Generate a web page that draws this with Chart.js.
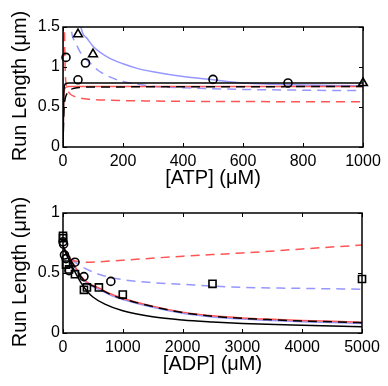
<!DOCTYPE html>
<html>
<head>
<meta charset="utf-8">
<script src="https://cdn.jsdelivr.net/npm/chart.js@4.4.1/dist/chart.umd.min.js"></script>
<style>
  body { margin: 0; background: #fff; }
  canvas { display: block; }
</style>
</head>
<body>
<canvas id="atpChart" width="388" height="193"></canvas>
<canvas id="adpChart" width="388" height="193"></canvas>
<script>
// ---- top panel: run length vs ATP ----
var atpTicks = [0, 200, 400, 600, 800, 1000];
var atpRunTicks = [0, 0.5, 1, 1.5];

var atpCircleX = [10, 50, 75, 500, 750];
var atpCircleY = [1.12, 0.84, 1.05, 0.845, 0.80];
var atpTriangleX = [50, 100, 1000];
var atpTriangleY = [1.41, 1.16, 0.80];

var atpBlueSolidX = [0, 1, 60, 80, 100, 150, 200, 250, 300, 400, 500, 600, 700, 800, 900, 1000];
var atpBlueSolidY = [0, 4, 1.5, 1.36, 1.26, 1.12, 1.04, 0.98, 0.94, 0.88, 0.84, 0.80, 0.785, 0.775, 0.77, 0.765];
var atpBlueDashX = [0, 1, 27, 40, 60, 90, 120, 160, 200, 300, 400, 600, 800, 1000];
var atpBlueDashY = [0, 4, 1.5, 1.32, 1.17, 1.05, 0.95, 0.87, 0.82, 0.76, 0.74, 0.72, 0.71, 0.705];
var atpRedDashX = [0, 1, 5, 8, 12, 20, 40, 80, 150, 300, 600, 1000];
var atpRedDashY = [0, 4, 1.5, 0.9, 0.76, 0.68, 0.63, 0.60, 0.585, 0.575, 0.568, 0.565];
var atpRedSolidX = [0, 3, 8, 20, 100, 1000];
var atpRedSolidY = [0, 0.65, 0.74, 0.755, 0.757, 0.757];
var atpBlackSolidX = [0, 3, 8, 20, 1000];
var atpBlackSolidY = [0, 0.70, 0.79, 0.80, 0.80];
var atpBlackDashX = [0, 3, 6, 11, 20, 33, 60, 100, 1000];
var atpBlackDashY = [0, 0.45, 0.58, 0.65, 0.70, 0.73, 0.745, 0.75, 0.755];

// ---- bottom panel: run length vs ADP ----
var adpTicks = [0, 1000, 2000, 3000, 4000, 5000];
var adpRunTicks = [0, 0.5, 1];

var adpSquareX = [0, 0, 50, 100, 200, 350, 400, 600, 1000, 2500, 5000];
var adpSquareY = [0.81, 0.79, 0.57, 0.53, 0.49, 0.36, 0.38, 0.38, 0.32, 0.41, 0.45];
var adpCircleX = [0, 10, 25, 50, 100, 200, 350, 800];
var adpCircleY = [0.76, 0.74, 0.65, 0.62, 0.52, 0.59, 0.47, 0.43];

var adpFitX = [0, 100, 200, 300, 400, 600, 800, 1000, 1500, 2000, 2500, 3000, 3500, 4000, 4500, 5000];
var adpBlackDashY = [0.72, 0.63, 0.55, 0.47, 0.42, 0.37, 0.32, 0.285, 0.22, 0.17, 0.14, 0.122, 0.11, 0.10, 0.093, 0.086];
var adpRedSolidY = [0.725, 0.635, 0.555, 0.475, 0.425, 0.375, 0.325, 0.29, 0.224, 0.174, 0.144, 0.126, 0.114, 0.104, 0.097, 0.09];
var adpBlueSolidY = [0.715, 0.625, 0.545, 0.465, 0.414, 0.364, 0.314, 0.279, 0.214, 0.164, 0.134, 0.116, 0.104, 0.094, 0.087, 0.08];
var adpBlackSolidX = [0, 50, 100, 200, 300, 400, 500, 700, 1000, 1500, 2000, 2500, 3000, 4000, 5000];
var adpBlackSolidY = [0.72, 0.66, 0.61, 0.51, 0.42, 0.35, 0.30, 0.24, 0.185, 0.135, 0.108, 0.092, 0.08, 0.065, 0.053];
var adpRedDashX = [0, 100, 200, 400, 1000, 2000, 3000, 4000, 5000];
var adpRedDashY = [0.72, 0.64, 0.60, 0.59, 0.607, 0.64, 0.667, 0.70, 0.733];
var adpBlueDashX = [0, 100, 200, 360, 640, 1000, 1500, 2000, 3000, 4000, 5000];
var adpBlueDashY = [0.72, 0.64, 0.59, 0.54, 0.483, 0.445, 0.42, 0.405, 0.38, 0.372, 0.365];

var RED = 'rgb(255, 85, 85)';
var BLUE = 'rgb(150, 150, 255)';
var FONT = 'Liberation Sans, Arial, sans-serif';

function pts(xs, ys) {
  return xs.map(function(x, i) { return { x: x, y: ys[i] }; });
}

function curve(xs, ys, color, dashed) {
  return {
    type: 'line',
    data: pts(xs, ys),
    borderColor: color,
    borderWidth: 1.5,
    borderDash: dashed ? [9, 6] : [],
    pointRadius: 0,
    cubicInterpolationMode: 'monotone',
    fill: false
  };
}

function markers(xs, ys, style, r) {
  return {
    type: 'scatter',
    data: pts(xs, ys),
    pointStyle: style,
    pointRadius: r,
    pointBorderColor: '#000',
    pointBackgroundColor: 'rgba(0,0,0,0)',
    pointBorderWidth: 1.6,
    clip: false
  };
}

// matlab style box with inward ticks on all four sides, plus axis titles
var boxPlugin = {
  id: 'box',
  afterDatasetsDraw: function(chart, args, opts) {
    var a = chart.chartArea, ctx = chart.ctx;
    var xs = chart.scales.x, ys = chart.scales.y;
    ctx.save();
    ctx.strokeStyle = '#000';
    ctx.lineWidth = 1.5;
    ctx.strokeRect(a.left, a.top, a.right - a.left, a.bottom - a.top);
    ctx.lineWidth = 1;
    ctx.beginPath();
    xs.ticks.forEach(function(t) {
      var px = Math.round(xs.getPixelForValue(t.value)) + 0.5;
      ctx.moveTo(px, a.bottom); ctx.lineTo(px, a.bottom - 4);
      ctx.moveTo(px, a.top); ctx.lineTo(px, a.top + 4);
    });
    ys.ticks.forEach(function(t) {
      var py = Math.round(ys.getPixelForValue(t.value)) + 0.5;
      ctx.moveTo(a.left, py); ctx.lineTo(a.left + 4, py);
      ctx.moveTo(a.right, py); ctx.lineTo(a.right - 4, py);
    });
    ctx.stroke();

    ctx.fillStyle = '#000';
    ctx.font = '20px ' + FONT;
    ctx.textAlign = 'center';
    ctx.textBaseline = 'middle';
    ctx.fillText(opts.xTitle, (a.left + a.right) / 2, a.bottom + 31);
    ctx.translate(20, (a.top + a.bottom) / 2 - 1);
    ctx.rotate(-Math.PI / 2);
    ctx.fillText('Run Length (μm)', 0, 0);
    ctx.restore();
  }
};

function makeChart(id, datasets, xMax, xTickVals, yMax, yTickVals, xTitle, layout) {
  return new Chart(document.getElementById(id), {
    type: 'line',
    data: { datasets: datasets },
    options: {
      responsive: false,
      animation: false,
      events: [],
      layout: { padding: { left: 0, right: layout.right, top: layout.top, bottom: 0 } },
      plugins: { legend: { display: false }, tooltip: { enabled: false }, box: { xTitle: xTitle } },
      scales: {
        x: {
          type: 'linear',
          min: 0, max: xMax,
          afterFit: function(s) { s.height = layout.xh; },
          afterBuildTicks: function(s) { s.ticks = xTickVals.map(function(v) { return { value: v }; }); },
          grid: { display: false, drawTicks: false },
          border: { display: false },
          ticks: { color: '#000', padding: 5, maxRotation: 0, font: { family: FONT, size: 16 },
                   callback: function(v) { return String(v); } }
        },
        y: {
          type: 'linear',
          min: 0, max: yMax,
          afterFit: function(s) { s.width = 63; },
          afterBuildTicks: function(s) { s.ticks = yTickVals.map(function(v) { return { value: v }; }); },
          grid: { display: false, drawTicks: false },
          border: { display: false },
          ticks: { color: '#000', padding: 3, font: { family: FONT, size: 16 },
                   callback: function(v) { return String(v); } }
        }
      }
    },
    plugins: [boxPlugin]
  });
}

makeChart('atpChart', [
  markers(atpCircleX, atpCircleY, 'circle', 4),
  markers(atpTriangleX, atpTriangleY, 'triangle', 5),
  curve(atpBlackDashX, atpBlackDashY, '#000', true),
  curve(atpBlackSolidX, atpBlackSolidY, '#000', false),
  curve(atpRedSolidX, atpRedSolidY, RED, false),
  curve(atpRedDashX, atpRedDashY, RED, true),
  curve(atpBlueDashX, atpBlueDashY, BLUE, true),
  curve(atpBlueSolidX, atpBlueSolidY, BLUE, false)
], 1000, atpTicks, 1.5, atpRunTicks, '[ATP] (μM)', { right: 25, top: 27, xh: 46 });

makeChart('adpChart', [
  markers(adpSquareX, adpSquareY, 'rect', 5),
  markers(adpCircleX, adpCircleY, 'circle', 4),
  curve(adpFitX, adpBlackDashY, '#000', true),
  curve(adpBlackSolidX, adpBlackSolidY, '#000', false),
  curve(adpFitX, adpRedSolidY, RED, false),
  curve(adpFitX, adpBlueSolidY, BLUE, false),
  curve(adpRedDashX, adpRedDashY, RED, true),
  curve(adpBlueDashX, adpBlueDashY, BLUE, true)
], 5000, adpTicks, 1, adpRunTicks, '[ADP] (μM)', { right: 26, top: 20, xh: 53 });
</script>
</body>
</html>
